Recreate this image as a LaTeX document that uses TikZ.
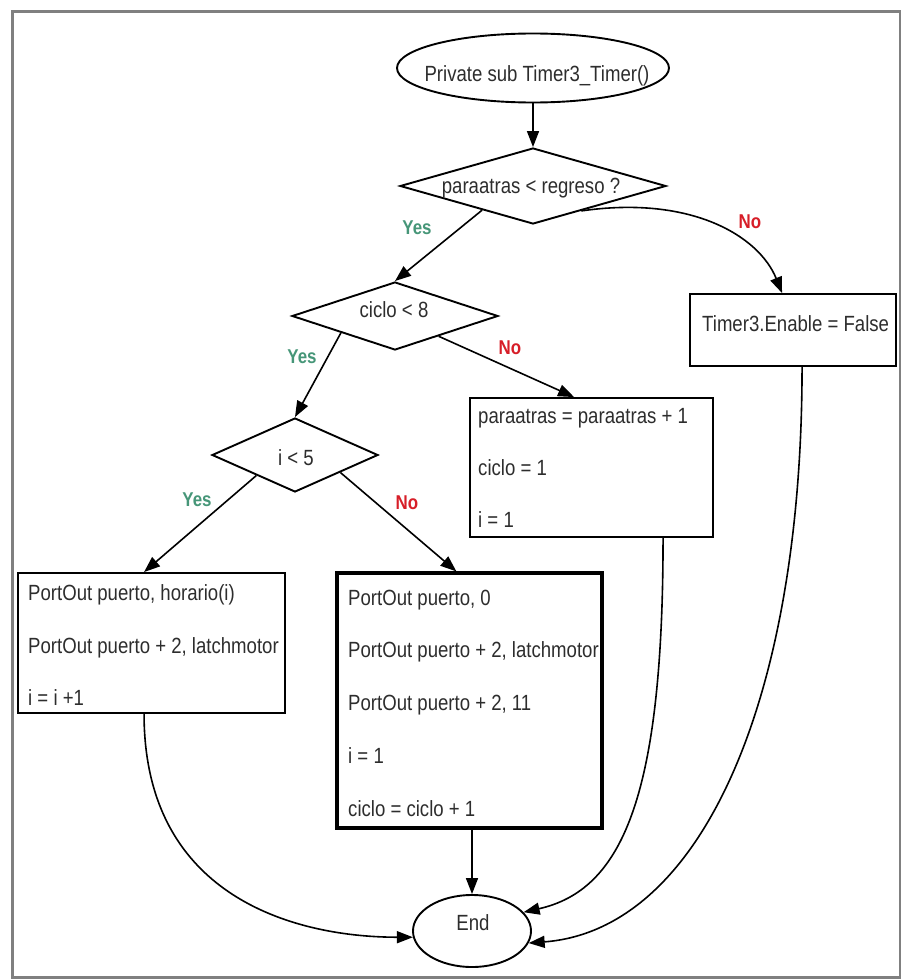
\documentclass[tikz,border=0pt]{standalone}
\usepackage{fontspec}
\setmainfont{Liberation Sans}[FakeStretch=0.845]
\usetikzlibrary{shapes.geometric,arrows.meta,calc}
\definecolor{yescol}{RGB}{70,150,120}
\definecolor{nocol}{RGB}{215,30,40}
\definecolor{txtcol}{RGB}{45,45,45}
\begin{document}
\begin{tikzpicture}[x=1pt,y=-1pt,
  shape frame/.style={draw, line width=1.9pt, inner sep=0pt},
  term/.style={shape frame, ellipse},
  decision/.style={shape frame, diamond},
  stepbox/.style={shape frame, rectangle},
  heavybox/.style={shape frame, rectangle, line width=3.2pt},
  txt/.style={inner sep=0pt, text=txtcol, font=\fontsize{22}{26}\selectfont},
  yeslbl/.style={inner sep=0pt, text=yescol, font=\fontsize{20}{24}\selectfont\bfseries},
  nolbl/.style={inner sep=0pt, text=nocol, font=\fontsize{20}{24}\selectfont\bfseries},
  arr/.style={draw, line width=1.6pt, -{Triangle[length=16pt,width=12pt]}}
]
\useasboundingbox (0,0) rectangle (901,979);
% outer frame
\draw[black!50, line width=3pt] (12,12) rectangle (900,977);

% shapes
\node[term, minimum width=272, minimum height=69] (start) at (533,68) {};
\node[decision, minimum width=266, minimum height=76] (d1) at (533,186) {};
\node[decision, minimum width=206, minimum height=68] (d2) at (395,316) {};
\node[decision, minimum width=166, minimum height=74] (d3) at (295,455) {};
\node[stepbox, minimum width=206, minimum height=72] (t3) at (793,330) {};
\node[stepbox, minimum width=243, minimum height=139] (pb) at (591.5,467.5) {};
\node[stepbox, minimum width=267, minimum height=140] (b1) at (151.5,643) {};
\node[heavybox, minimum width=265, minimum height=255] (b2) at (469.5,700.5) {};
\node[term, minimum width=118, minimum height=72] (end) at (472,931) {};

% texts
\node[txt, anchor=base] (startt) at (537,82) {Private sub Timer3\_Timer()};
\node[txt, anchor=base] (d1t) at (531,193) {paraatras < regreso ?};
\node[txt, anchor=base] (d2t) at (394,317) {ciclo < 8};
\node[txt, anchor=base] (d3t) at (296,465) {i < 5};
\node[txt, anchor=base west] (t3t) at (702,331) {Timer3.Enable = False};
\node[txt, anchor=base west] (pbt1) at (478,423) {paraatras = paraatras + 1};
\node[txt, anchor=base west] (pbt2) at (478,475) {ciclo = 1};
\node[txt, anchor=base west] (pbt3) at (478,527) {i = 1};
\node[txt, anchor=base west] (b1t1) at (28,600) {PortOut puerto, horario(i)};
\node[txt, anchor=base west] (b1t2) at (28,653) {PortOut puerto + 2, latchmotor};
\node[txt, anchor=base west] (b1t3) at (28,705) {i = i +1};
\node[txt, anchor=base west] (b2t1) at (348,605) {PortOut puerto, 0};
\node[txt, anchor=base west] (b2t2) at (348,657) {PortOut puerto + 2, latchmotor};
\node[txt, anchor=base west] (b2t3) at (348,710) {PortOut puerto + 2, 11};
\node[txt, anchor=base west] (b2t4) at (348,763) {i = 1};
\node[txt, anchor=base west] (b2t5) at (348,816) {ciclo = ciclo + 1};
\node[txt, anchor=base] (endt) at (473,930) {End};

% branch labels
\node[yeslbl] (y1) at (417,228) {Yes};
\node[nolbl]  (n1) at (750,222) {No};
\node[yeslbl] (y2) at (302,357) {Yes};
\node[nolbl]  (n2) at (510,348) {No};
\node[yeslbl] (y3) at (197,500) {Yes};
\node[nolbl]  (n3) at (407,503) {No};

% connectors
\draw[arr] (start.south) -- (d1.north);
\draw[arr] ($(d1.south)!0.38!(d1.west)$) -- (d2.north);
\draw[arr] ($(d1.south)!0.36!(d1.east)$) .. controls +(110,-16) and +(-23,-57) .. ($(t3.north west)+(93,0)$);
\draw[arr] ($(d2.south)!0.52!(d2.west)$) -- (d3.north);
\draw[arr] ($(d2.south)!0.42!(d2.east)$) -- ($(pb.north west)+(105,0)$);
\draw[arr] ($(d3.south)!0.46!(d3.west)$) -- ($(b1.north west)+(127,0)$);
\draw[arr] ($(d3.south)!0.54!(d3.east)$) -- ($(b2.north west)+(121,0)$);
\draw[arr] (b2.south -| end.north) -- (end.north);
\draw[arr] ($(b1.south west)+(127,0)$) .. controls +(0,187) and +(-112,0) .. (end.186);
\draw[arr] ($(pb.south west)+(194,0)$) .. controls +(0,263) and +(97,-22) .. (end.20);
\draw[arr] ($(t3.south west)+(113,0)$) .. controls +(0,334) and +(172,-13) .. (end.-12);
\end{tikzpicture}
\end{document}
